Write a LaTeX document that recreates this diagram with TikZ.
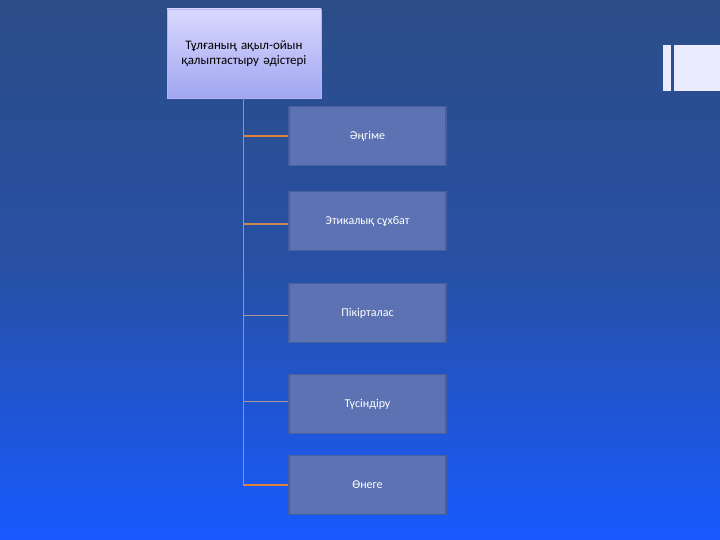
\documentclass[tikz,border=0pt]{standalone}
\usepackage{fontspec}
\setmainfont{Carlito}
\definecolor{bgtop}{RGB}{44,77,135}
\definecolor{bgbot}{RGB}{24,90,255}
\definecolor{boxfill}{RGB}{92,114,178}
\definecolor{boxline}{RGB}{70,95,160}
\definecolor{linkor}{RGB}{222,130,60}
\definecolor{linkgr}{RGB}{170,150,150}
\tikzset{every picture/.style={line width=0.75pt}}
\tikzset{
  methodbox/.style={draw=boxline, line width=1.5pt, fill=boxfill, minimum width=157pt, minimum height=59pt, text=white, font=\fontsize{12}{14}\selectfont},
  headbox/.style={draw=white!70!blue, top color=white!85!blue, bottom color=blue!30!white!80!boxfill, minimum width=154pt, minimum height=89pt, align=center, text width=140pt, font=\fontsize{13}{15}\selectfont},
}
\begin{document}
\begin{tikzpicture}[x=1pt,y=1pt,yscale=-1]
%background
\shade[top color=bgtop, bottom color=bgbot, middle color=bgtop!75!bgbot] (0,0) rectangle (720,540);
\useasboundingbox (0,0) rectangle (720,540);
%decoration bars
\fill[white!92!blue] (663,45) rectangle (671,91);
\fill[white!92!blue] (674,45) rectangle (720,91);

% Head Node
\node[headbox] (head) at (244,53.5) {Тұлғаның ақыл-ойын қалыптастыру әдістері};
% Method Nodes
\node[methodbox] (m1) at (367.5,136) {Әңгіме};
\node[methodbox] (m2) at (367.5,221) {Этикалық сұхбат};
\node[methodbox] (m3) at (367.5,313) {Пікірталас};
\node[methodbox] (m4) at (367.5,404) {Түсіндіру};
\node[methodbox] (m5) at (367.5,485) {Өнеге};

%spine
\coordinate (s1) at (243,136);
\coordinate (s2) at (243,224);
\coordinate (s3) at (243,315);
\coordinate (s4) at (243,401);
\coordinate (s5) at (243,485);
\draw[linkor, line width=1pt] (head.south -| s1) -- (s5);
%links
\draw[linkor, line width=2.5pt] (s1) -- (m1.west |- s1);
\draw[linkor!70!linkgr, line width=2pt] (s2) -- (m2.west |- s2);
\draw[linkgr, line width=1pt] (s3) -- (m3.west |- s3);
\draw[linkgr, line width=1pt] (s4) -- (m4.west |- s4);
\draw[linkor, line width=2pt] (s5) -- (m5.west |- s5);
\end{tikzpicture}
\end{document}
